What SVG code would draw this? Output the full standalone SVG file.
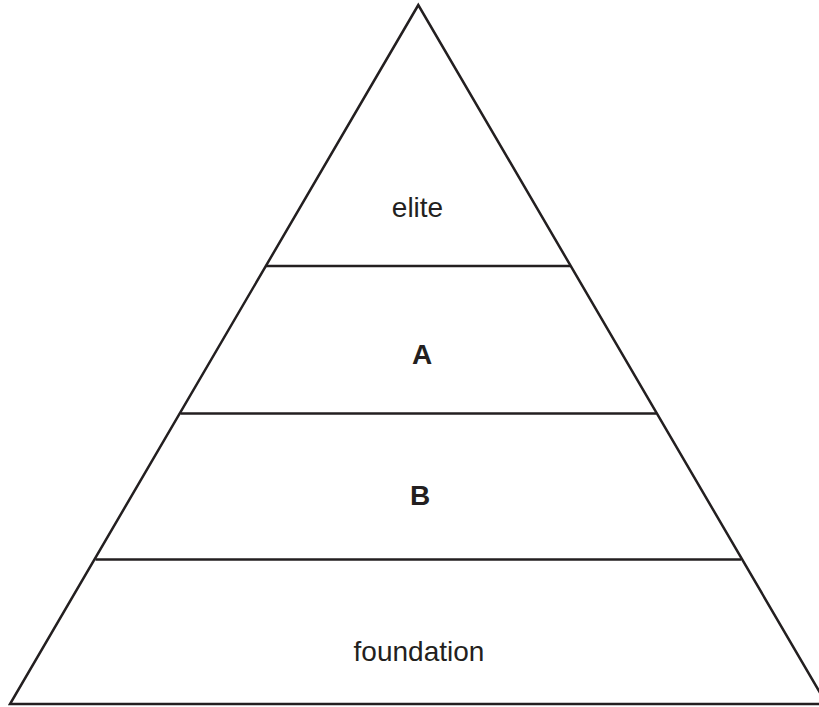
<svg xmlns="http://www.w3.org/2000/svg" width="819" height="707" viewBox="0 0 819 707">
<style>
.ln{stroke:#231f20;stroke-width:2.5;fill:none;stroke-linejoin:miter}
.t{font-family:"Liberation Sans",Arial,sans-serif;font-size:28px;fill:#231f20;text-anchor:middle}
.b{font-weight:bold}
</style>
<rect width="819" height="707" fill="#fff"/>
<g id="connectors">
<polygon class="ln" points="418.3,5 10,704 826.6,704"/>
<line class="ln" x1="266" y1="266" x2="570.6" y2="266"/>
<line class="ln" x1="180.5" y1="413.5" x2="656.1" y2="413.5"/>
<line class="ln" x1="95.5" y1="559.5" x2="741.1" y2="559.5"/>
</g>
<g id="elite"><text class="t" x="417.5" y="217">elite</text></g>
<g id="A"><text class="t b" x="422" y="363.5">A</text></g>
<g id="B"><text class="t b" x="420" y="505">B</text></g>
<g id="foundation"><text class="t" x="419" y="661">foundation</text></g>
</svg>
